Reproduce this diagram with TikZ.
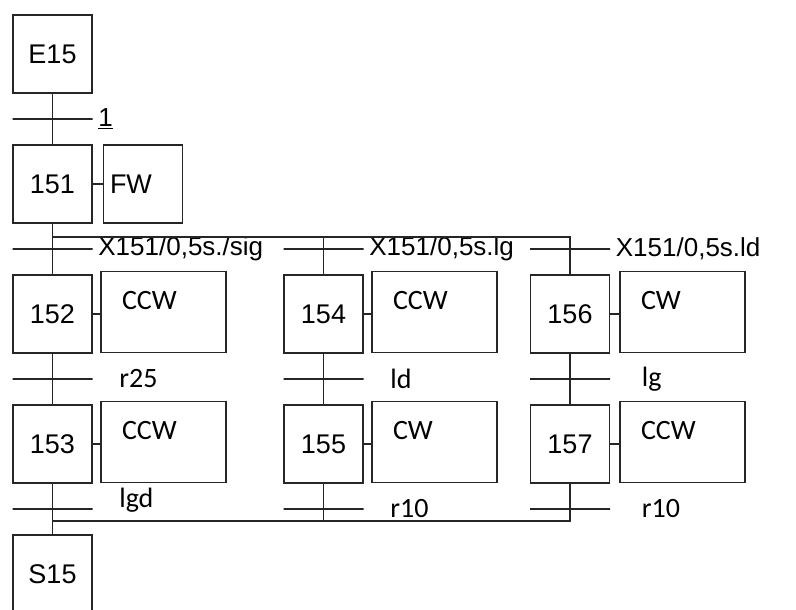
\documentclass[tikz,border=0pt]{standalone}
\usepackage{fontspec}
\setmainfont{Liberation Sans}
\newfontfamily\carl{Carlito}
\usetikzlibrary{positioning}

\begin{document}
\begin{tikzpicture}[x=1pt, y=1pt, node distance=65pt, line width=1.9pt, draw=black!85]
\tikzstyle{etape}=[rectangle, draw, minimum width=79pt, minimum height=78pt,
  inner sep=0pt, font=\fontsize{27}{32}\selectfont]
\tikzstyle{action}=[rectangle, draw, text width=83pt, inner xsep=21pt,
  inner ysep=0pt, text height=38pt, text depth=43pt, align=left,
  font=\carl\fontsize{28}{33}\selectfont]
\tikzstyle{trans}=[rectangle, draw, minimum width=80pt, minimum height=0pt,
  inner sep=0pt]
\tikzstyle{recep}=[font=\fontsize{26}{30}\selectfont, inner sep=0pt,
  label distance=4pt]
\tikzstyle{cond}=[font=\carl\fontsize{28}{33}\selectfont, inner sep=0pt,
  label distance=25pt]

\useasboundingbox (0,0) rectangle (796,-610);

% branche gauche
\node (E15) [etape] at (52.5,-54) {E15};
\node (t1) [trans, below of=E15, label={[recep]right:\underline{1}}] {};
\node (s151) [etape, below of=t1] {151};
\node (fw) [etape, right of=s151, xshift=25.5pt, text width=66pt, align=left]
  {FW};
\node (t2) [trans, below of=s151, label={[recep]right:X151/0,5s./sig}] {};
\node (s152) [etape, below of=t2] {152};
\node (a152) [action, right of=s152, xshift=46pt, yshift=2pt] {CCW};
\node (t3) [trans, below of=s152, label={[cond]right:r25}] {};
\node (s153) [etape, below of=t3] {153};
\node (a153) [action, right of=s153, xshift=46pt, yshift=2pt] {CCW};
\node (t4) [trans, below of=s153, label={[cond, yshift=9pt]right:lgd}] {};
\node (S15) [etape, below of=t4] {S15};

% branche milieu
\node (t5) [trans, right of=t2, xshift=206pt, label={[recep]right:X151/0,5s.lg}] {};
\node (s154) [etape, below of=t5] {154};
\node (a154) [action, right of=s154, xshift=46pt, yshift=2pt] {CCW};
\node (t6) [trans, below of=s154, label={[cond]right:ld}] {};
\node (s155) [etape, below of=t6] {155};
\node (a155) [action, right of=s155, xshift=46pt, yshift=2pt] {CW};
\node (t7) [trans, below of=s155, label={[cond]right:r10}] {};

% branche droite
\node (t8) [trans, right of=t5, xshift=181.5pt, label={[recep]right:X151/0,5s.ld}] {};
\node (s156) [etape, below of=t8] {156};
\node (a156) [action, right of=s156, xshift=47.5pt, yshift=2pt] {CW};
\node (t9) [trans, below of=s156, label={[cond, label distance=30pt]right:lg}] {};
\node (s157) [etape, below of=t9] {157};
\node (a157) [action, right of=s157, xshift=47.5pt, yshift=2pt] {CCW};
\node (t10) [trans, below of=s157, label={[cond, label distance=30pt]right:r10}] {};

\coordinate (div) at ([yshift=12pt]t2.center);
\coordinate (conv) at ([yshift=-12pt]t4.center);

\draw (E15) -- (s151);
\draw (s151) -- (s152);
\draw (s152) -- (s153);
\draw (s153) -- (S15);
\draw (div) -| (s156);
\draw (div -| s154) -- (s154);
\draw (s154) -- (s155);
\draw (s156) -- (s157);
\draw (s157) |- (conv);
\draw (s155) -- (s155 |- conv);

\draw (s151) -- (fw);
\draw (s152.east) -- (s152.east -| a152.west);
\draw (s153.east) -- (s153.east -| a153.west);
\draw (s154.east) -- (s154.east -| a154.west);
\draw (s155.east) -- (s155.east -| a155.west);
\draw (s156.east) -- (s156.east -| a156.west);
\draw (s157.east) -- (s157.east -| a157.west);
\end{tikzpicture}
\end{document}
